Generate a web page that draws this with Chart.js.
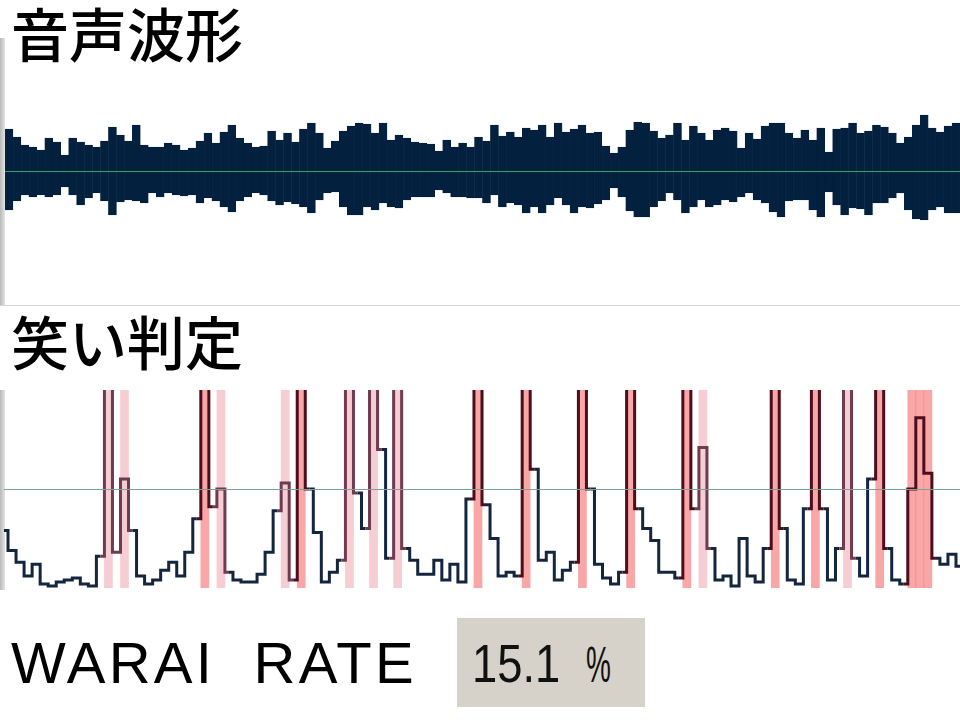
<!DOCTYPE html>
<html>
<head>
<meta charset="utf-8">
<script src="https://cdn.jsdelivr.net/npm/chart.js@4.4.0/dist/chart.umd.min.js"></script>
<style>
  body { margin: 0; background: #fff; width: 960px; height: 720px; position: relative; overflow: hidden; }
  .title { position: absolute; left: 11px; font-family: "Noto Sans CJK JP", sans-serif; font-size: 58px; line-height: 58px; font-weight: 500; color: #000; }
  .edge { position: absolute; left: 0; width: 5px; background: linear-gradient(to right, #b8b8b8, #e4e4e4); }
  canvas { position: absolute; }
  #rateLabel { position: absolute; left: 11px; top: 634px; font-family: "Liberation Sans", Arial, sans-serif; font-size: 58px; line-height: 58px; letter-spacing: 3.2px; white-space: pre; color: #000; }
  #rateBox { position: absolute; left: 457px; top: 618px; width: 188px; height: 89px; background: #d6d2c9; }
  #rateNum { position: absolute; left: 15px; top: 18px; font-family: "Liberation Sans", Arial, sans-serif; font-size: 54px; line-height: 54px; color: #111; transform: scaleX(0.84); transform-origin: left top; }
  #rateUnit { position: absolute; left: 129px; top: 22px; font-family: "Liberation Sans", Arial, sans-serif; font-size: 50px; line-height: 50px; color: #111; transform: scaleX(0.56); transform-origin: left top; }
</style>
</head>
<body>
<div class="title" style="top:3px">音声波形</div>
<div class="edge" style="top:38px;height:268px"></div>
<div style="position:absolute;left:0;top:305px;width:960px;height:1px;background:#d6d6d6"></div>
<canvas id="wave" width="955" height="268" style="left:5px;top:37px"></canvas>

<div class="title" style="top:311px">笑い判定</div>
<div class="edge" style="top:390px;height:200px"></div>
<canvas id="warai" width="956" height="198" style="left:4px;top:390px"></canvas>

<div id="rateLabel"></div>
<div id="rateBox"><span id="rateNum"></span><span id="rateUnit"></span></div>

<script>
// ---- 音声波形: 振幅 (上側 / 下側) ----
const waveTop = [
  42,34,26,24,21,33,29,16,33,29,26,24,30,44,36,30,46,26,24,24,28,26,21,23,
  30,38,28,39,46,33,28,24,25,40,31,38,29,42,48,38,23,30,40,45,48,47,38,48,
  31,36,33,29,28,27,20,31,24,28,24,34,30,46,35,39,34,43,41,46,34,48,39,42,
  46,38,39,25,18,24,41,49,48,40,33,36,48,31,45,38,31,41,43,40,23,38,32,45,
  48,48,38,33,41,31,43,19,42,43,48,38,40,46,44,38,28,34,46,56,43,39,45,48
];
const waveBottom = [
  39,30,24,26,24,26,24,16,24,34,27,22,30,44,31,29,30,32,22,26,22,24,25,24,
  32,27,30,36,41,30,26,22,24,30,34,31,33,36,42,29,22,21,36,44,44,36,39,32,
  36,37,29,26,26,26,19,22,26,26,27,27,32,24,36,32,34,42,36,42,34,27,34,42,
  36,37,33,29,17,26,40,46,46,36,30,22,29,42,36,29,36,34,29,31,26,22,29,32,
  41,46,30,29,29,39,46,21,34,44,37,38,44,32,32,27,22,39,48,49,39,36,42,42
];
const waveRange = 134;

// ---- 笑い判定: スコア ----
const waraiScore = [
  29,19,13,6,12,2,1,3,4,5,2,1,16,110,18,55,29,6,2,4,9,13,6,18,35,110,41,50,8,4,3,3,7,18,39,53,4,110,50,28,
  3,8,14,110,48,30,110,70,15,110,20,14,7,7,14,4,12,3,45,110,42,25,6,8,6,110,60,14,18,4,9,13,110,50,12,5,2,8,110,40,
  30,24,8,8,5,110,40,71,20,4,6,1,25,6,3,20,110,30,4,2,40,110,40,4,20,110,15,6,55,110,20,4,2,50,86,58,15,12,17,11
];
const lightBands = [13, 15, 27, 35, 43, 46, 49, 87, 105];
const strongBands = [25, 37, 59, 65, 72, 78, 85, 96, 101, 109, 113, 114, 115];
const threshold = 50;
const waraiRate = 15.1;

document.getElementById("rateLabel").textContent = "WARAI  RATE";
document.getElementById("rateNum").textContent = waraiRate.toFixed(1);
document.getElementById("rateUnit").textContent = "%";

// 水平線プラグイン
function hLine(value, color) {
  return {
    id: "hline",
    afterDatasetsDraw(chart) {
      const { ctx, chartArea, scales } = chart;
      const y = Math.round(scales.y.getPixelForValue(value)) + 0.5;
      ctx.save();
      ctx.strokeStyle = color;
      ctx.lineWidth = 1;
      ctx.beginPath();
      ctx.moveTo(chartArea.left, y);
      ctx.lineTo(chartArea.right, y);
      ctx.stroke();
      ctx.restore();
    }
  };
}

const baseOptions = (min, max) => ({
  responsive: false,
  animation: false,
  layout: { padding: 0 },
  plugins: { legend: { display: false }, tooltip: { enabled: false } },
  scales: {
    x: { display: false },
    y: { display: false, min: min, max: max }
  }
});

// ------------ 音声波形 ------------
new Chart(document.getElementById("wave"), {
  type: "bar",
  data: {
    labels: waveTop.map((_, i) => i),
    datasets: [{
      data: waveTop.map((t, i) => [-waveBottom[i], t]),
      backgroundColor: "#03203f",
      borderColor: "#03203f",
      borderWidth: 0.6,
      borderSkipped: false,
      barPercentage: 1,
      categoryPercentage: 1
    }]
  },
  options: baseOptions(-waveRange, waveRange),
  plugins: [hLine(0, "#2fa464")]
});

// ------------ 笑い判定 ------------
const lightColor = "rgba(236,150,160,0.48)";
const strongColor = "rgba(246,112,112,0.62)";
const inBand = (list, i) => list.includes(i);
const segColor = ctx => {
  const a = ctx.p0DataIndex, b = ctx.p1DataIndex;
  if (inBand(strongBands, a) || inBand(strongBands, b)) return "#4c0d1d";
  if (inBand(lightBands, a) || inBand(lightBands, b)) return "#6e3b50";
  return undefined;
};

new Chart(document.getElementById("warai"), {
  type: "bar",
  data: {
    labels: waraiScore.map((_, i) => i),
    datasets: [{
      type: "line",
      data: waraiScore,
      borderColor: "#14253e",
      borderWidth: 3,
      pointRadius: 0,
      stepped: "middle",
      fill: false,
      clip: { left: 0, top: 0, right: 0, bottom: 4 },
      segment: { borderColor: segColor },
      order: 0
    }, {
      data: waraiScore.map((_, i) => (inBand(lightBands, i) || inBand(strongBands, i)) ? 100 : null),
      backgroundColor: waraiScore.map((_, i) => inBand(strongBands, i) ? strongColor : lightColor),
      borderWidth: 0,
      barPercentage: 1,
      categoryPercentage: 1,
      order: 1
    }]
  },
  options: (() => {
    const o = baseOptions(0, 100);
    o.scales.x.offset = false;
    return o;
  })(),
  plugins: [hLine(threshold, "#7e9f9c")]
});
</script>
</body>
</html>
